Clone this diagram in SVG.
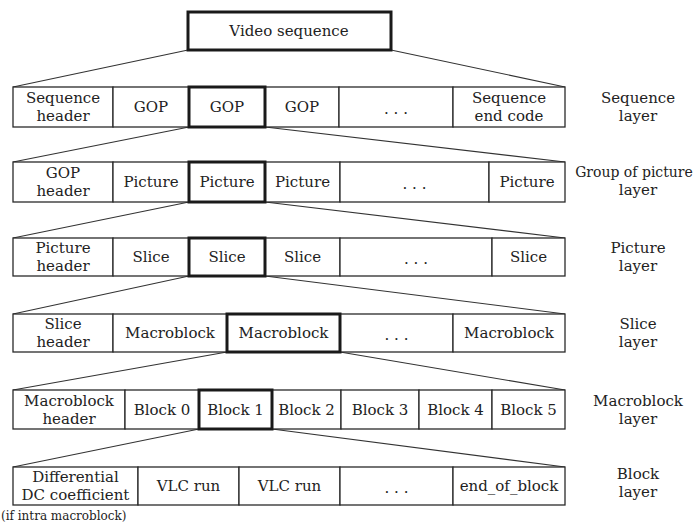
<svg xmlns="http://www.w3.org/2000/svg" width="696" height="527" viewBox="0 0 696 527">
  <style>
    .cell { fill: #fff; stroke: #2a2a2a; stroke-width: 1.3; }
    .sel { fill: none; stroke: #1a1a1a; stroke-width: 3; }
    text { font-family: 'DejaVu Serif', 'Liberation Serif', serif; fill: #222; }
    .t { font-size: 15px; text-anchor: middle; dominant-baseline: central; }
    .note { font-size: 12px; }
    .link { stroke: #333; stroke-width: 1.1; fill: none; }
  </style>

  <rect width="696" height="527" fill="#fff"/>

  <!-- expansion lines between layers -->
  <g id="connectors">
    <line class="link" x1="188" y1="50" x2="13" y2="87"/>
    <line class="link" x1="391" y1="50" x2="565" y2="87"/>
    <line class="link" x1="189" y1="127" x2="13" y2="162"/>
    <line class="link" x1="265" y1="127" x2="565" y2="162"/>
    <line class="link" x1="189" y1="202" x2="13" y2="238"/>
    <line class="link" x1="265" y1="202" x2="565" y2="238"/>
    <line class="link" x1="189" y1="276" x2="13" y2="314"/>
    <line class="link" x1="265" y1="276" x2="565" y2="314"/>
    <line class="link" x1="227" y1="352" x2="13" y2="390"/>
    <line class="link" x1="340" y1="352" x2="565" y2="390"/>
    <line class="link" x1="199" y1="429" x2="13" y2="467"/>
    <line class="link" x1="272" y1="429" x2="565" y2="467"/>
  </g>

  <!-- top -->
  <g id="video-sequence">
    <rect class="cell" x="188" y="12" width="203" height="38"/>
    <rect class="sel" x="188" y="12" width="203" height="38"/>
    <text class="t" x="289" y="31">Video sequence</text>
  </g>

  <!-- sequence layer -->
  <g id="seq-header"><rect class="cell" x="13" y="87" width="100" height="40"/><text class="t" x="63" y="98">Sequence<tspan x="63" dy="18">header</tspan></text></g>
  <g id="seq-gop1"><rect class="cell" x="113" y="87" width="76" height="40"/><text class="t" x="151" y="107">GOP</text></g>
  <g id="seq-gop2"><rect class="cell" x="265" y="87" width="74" height="40"/><text class="t" x="302" y="107">GOP</text></g>
  <g id="seq-dots"><rect class="cell" x="339" y="87" width="114" height="40"/><text class="t" x="396" y="109">. . .</text></g>
  <g id="seq-end"><rect class="cell" x="453" y="87" width="112" height="40"/><text class="t" x="509" y="98">Sequence<tspan x="509" dy="18">end code</tspan></text></g>
  <g id="seq-gop-sel"><rect class="sel" x="189" y="87" width="76" height="40"/><text class="t" x="227" y="107">GOP</text></g>
  <g id="label-sequence"><text class="t" x="638" y="98">Sequence<tspan x="638" dy="18">layer</tspan></text></g>

  <!-- group of pictures layer -->
  <g id="gop-header"><rect class="cell" x="13" y="162" width="100" height="40"/><text class="t" x="63" y="173">GOP<tspan x="63" dy="18">header</tspan></text></g>
  <g id="gop-pic1"><rect class="cell" x="113" y="162" width="76" height="40"/><text class="t" x="151" y="182">Picture</text></g>
  <g id="gop-pic3"><rect class="cell" x="265" y="162" width="75" height="40"/><text class="t" x="302.5" y="182">Picture</text></g>
  <g id="gop-dots"><rect class="cell" x="340" y="162" width="149" height="40"/><text class="t" x="414.5" y="184">. . .</text></g>
  <g id="gop-picn"><rect class="cell" x="489" y="162" width="76" height="40"/><text class="t" x="527" y="182">Picture</text></g>
  <g id="gop-pic-sel"><rect class="sel" x="189" y="162" width="76" height="40"/><text class="t" x="227" y="182">Picture</text></g>
  <g id="label-gop"><text class="t" x="634" y="172" style="font-size:14px">Group of picture<tspan x="638" dy="18" style="font-size:15px">layer</tspan></text></g>

  <!-- picture layer -->
  <g id="pic-header"><rect class="cell" x="13" y="238" width="100" height="38"/><text class="t" x="63" y="248">Picture<tspan x="63" dy="18">header</tspan></text></g>
  <g id="pic-slice1"><rect class="cell" x="113" y="238" width="76" height="38"/><text class="t" x="151" y="257">Slice</text></g>
  <g id="pic-slice3"><rect class="cell" x="265" y="238" width="75" height="38"/><text class="t" x="302.5" y="257">Slice</text></g>
  <g id="pic-dots"><rect class="cell" x="340" y="238" width="152" height="38"/><text class="t" x="416" y="259">. . .</text></g>
  <g id="pic-slicen"><rect class="cell" x="492" y="238" width="73" height="38"/><text class="t" x="528.5" y="257">Slice</text></g>
  <g id="pic-slice-sel"><rect class="sel" x="189" y="238" width="76" height="38"/><text class="t" x="227" y="257">Slice</text></g>
  <g id="label-picture"><text class="t" x="638" y="248">Picture<tspan x="638" dy="18">layer</tspan></text></g>

  <!-- slice layer -->
  <g id="slice-header"><rect class="cell" x="13" y="314" width="100" height="38"/><text class="t" x="63" y="324">Slice<tspan x="63" dy="18">header</tspan></text></g>
  <g id="slice-mb1"><rect class="cell" x="113" y="314" width="114" height="38"/><text class="t" x="170" y="333">Macroblock</text></g>
  <g id="slice-dots"><rect class="cell" x="340" y="314" width="113" height="38"/><text class="t" x="396.5" y="335">. . .</text></g>
  <g id="slice-mbn"><rect class="cell" x="453" y="314" width="112" height="38"/><text class="t" x="509" y="333">Macroblock</text></g>
  <g id="slice-mb-sel"><rect class="sel" x="227" y="314" width="113" height="38"/><text class="t" x="283.5" y="333">Macroblock</text></g>
  <g id="label-slice"><text class="t" x="638" y="324">Slice<tspan x="638" dy="18">layer</tspan></text></g>

  <!-- macroblock layer -->
  <g id="mb-header"><rect class="cell" x="13" y="390" width="112" height="39"/><text class="t" x="69" y="400.5">Macroblock<tspan x="69" dy="18">header</tspan></text></g>
  <g id="mb-block0"><rect class="cell" x="125" y="390" width="74" height="39"/><text class="t" x="162" y="409.5">Block 0</text></g>
  <g id="mb-block2"><rect class="cell" x="272" y="390" width="69" height="39"/><text class="t" x="306.5" y="409.5">Block 2</text></g>
  <g id="mb-block3"><rect class="cell" x="341" y="390" width="78" height="39"/><text class="t" x="380" y="409.5">Block 3</text></g>
  <g id="mb-block4"><rect class="cell" x="419" y="390" width="73" height="39"/><text class="t" x="455.5" y="409.5">Block 4</text></g>
  <g id="mb-block5"><rect class="cell" x="492" y="390" width="73" height="39"/><text class="t" x="528.5" y="409.5">Block 5</text></g>
  <g id="mb-block1-sel"><rect class="sel" x="199" y="390" width="73" height="39"/><text class="t" x="235.5" y="409.5">Block 1</text></g>
  <g id="label-macroblock"><text class="t" x="638" y="401">Macroblock<tspan x="638" dy="18">layer</tspan></text></g>

  <!-- block layer -->
  <g id="blk-dc"><rect class="cell" x="13" y="467" width="125" height="38"/><text class="t" x="75.5" y="477">Differential<tspan x="75.5" dy="18">DC coefficient</tspan></text></g>
  <g id="blk-vlc1"><rect class="cell" x="138" y="467" width="101" height="38"/><text class="t" x="188.5" y="486">VLC run</text></g>
  <g id="blk-vlc2"><rect class="cell" x="239" y="467" width="101" height="38"/><text class="t" x="289.5" y="486">VLC run</text></g>
  <g id="blk-dots"><rect class="cell" x="340" y="467" width="113" height="38"/><text class="t" x="396.5" y="488">. . .</text></g>
  <g id="blk-eob"><rect class="cell" x="453" y="467" width="112" height="38"/><text class="t" x="509" y="486">end_of_block</text></g>
  <g id="label-block"><text class="t" x="638" y="474">Block<tspan x="638" dy="18">layer</tspan></text></g>

  <text class="note" x="1" y="520">(if intra macroblock)</text>
</svg>
